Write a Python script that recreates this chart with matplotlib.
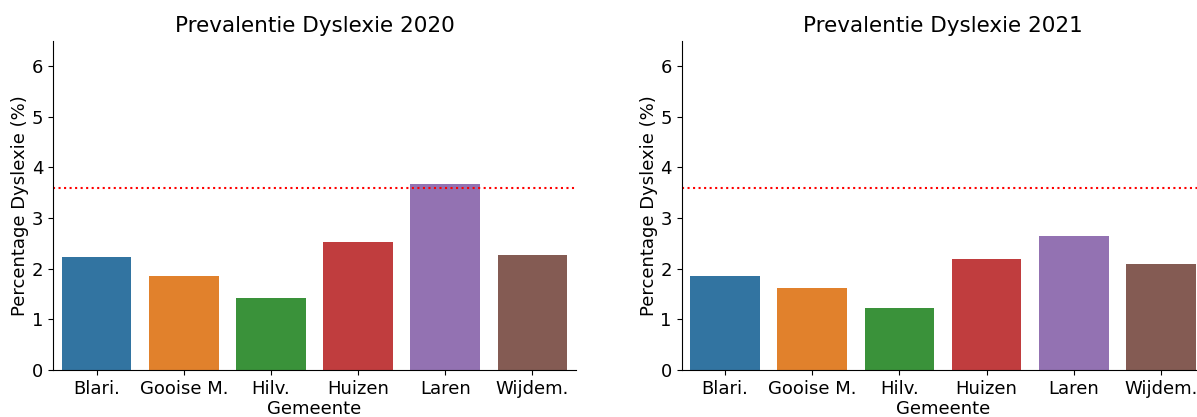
import matplotlib
matplotlib.use("Agg")
import matplotlib.pyplot as plt
import seaborn as sns
import numpy as np

gemeenten = ["Blari.", "Gooise M.", "Hilv.", "Huizen", "Laren", "Wijdem."]
prev_2020 = [2.23, 1.86, 1.43, 2.52, 3.66, 2.26]
prev_2021 = [1.86, 1.61, 1.22, 2.19, 2.64, 2.09]
referentie = 3.6
titles = ["Prevalentie Dyslexie 2020", "Prevalentie Dyslexie 2021"]

plt.rcParams['font.family'] = ['DejaVu Sans']

W, H = 1197, 417
fig = plt.figure(figsize=(W / 100, H / 100), dpi=100)

def px_axes(x0, x1, y_top, y_bot):
    return fig.add_axes([x0 / W, 1 - y_bot / H, (x1 - x0) / W, (y_bot - y_top) / H])

ax1 = px_axes(53, 576, 40.5, 370)
ax2 = px_axes(681.5, 1204.5, 40.5, 370)

palette = sns.color_palette("tab10", 6)
for ax, vals, title in [(ax1, prev_2020, titles[0]), (ax2, prev_2021, titles[1])]:
    sns.barplot(x=gemeenten, y=vals, hue=gemeenten, palette=palette, legend=False,
                ax=ax, saturation=0.75)
    ax.axhline(referentie, color="red", linestyle=":", linewidth=1.5)
    ax.set_ylim(0, 6.5)
    ax.set_xlim(-0.5, 5.5)
    ax.set_yticks([0, 1, 2, 3, 4, 5, 6])
    ax.set_title(title, fontsize=15.5)
    ax.set_xlabel("Gemeente", fontsize=13, labelpad=2)
    ax.set_ylabel("Percentage Dyslexie (%)", fontsize=13, labelpad=2)
    ax.tick_params(labelsize=13)
    ax.spines["top"].set_visible(False)
    ax.spines["right"].set_visible(False)

fig.savefig("out.png", dpi=100)
